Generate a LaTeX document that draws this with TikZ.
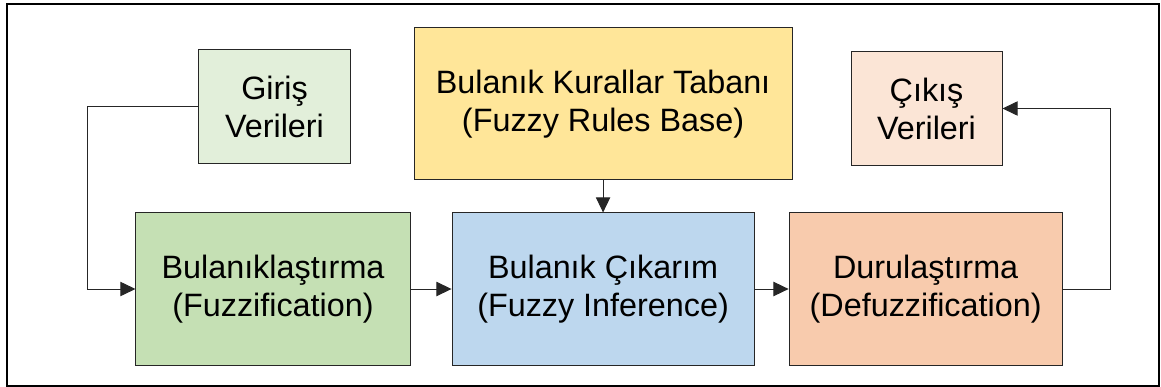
\documentclass[tikz,border=0pt]{standalone}
\usepackage{fontspec}
\setmainfont{Liberation Sans}
\usetikzlibrary{arrows.meta,positioning}

\definecolor{girisgreen}{HTML}{E2EFDA}
\definecolor{fuzzgreen}{HTML}{C5E0B4}
\definecolor{rulesyellow}{HTML}{FFE699}
\definecolor{inferblue}{HTML}{BDD7EE}
\definecolor{defuzzorange}{HTML}{F8CBAD}
\definecolor{cikispeach}{HTML}{FBE5D6}

\tikzset{
  block/.style={draw=black!85,line width=0.7pt,align=center,inner sep=0pt,
    font=\fontsize{23}{27}\selectfont},
  bigblock/.style={block,minimum height=3.8cm},
  datablock/.style={block,minimum width=3.775cm,minimum height=2.825cm},
  link/.style={draw=black!85,line width=0.7pt,-{Triangle[length=0.38cm,width=0.36cm]}}
}

\begin{document}
\begin{tikzpicture}[x=0.025cm,y=-0.025cm]
  \useasboundingbox (0,0) rectangle (1161,387);
  \draw[line width=1.4pt] (7,4) rectangle (1159,386);

  \node[bigblock,fill=fuzzgreen,minimum width=6.85cm]      (fuzz)   at (273,289) {Bulanıklaştırma\\(Fuzzification)};
  \node[bigblock,fill=inferblue,minimum width=7.55cm]      (infer)  [right=1.025cm of fuzz] {Bulanık Çıkarım\\(Fuzzy Inference)};
  \node[bigblock,fill=defuzzorange,minimum width=6.825cm]  (defuzz) [right=0.85cm of infer] {Durulaştırma\\(Defuzzification)};
  \node[bigblock,fill=rulesyellow,minimum width=9.45cm]    (rules)  [above=0.8cm of infer] {Bulanık Kurallar Tabanı\\(Fuzzy Rules Base)};
  \node[datablock,fill=girisgreen]                         (giris)  at (274.5,106.5) {Giriş\\Verileri};
  \node[datablock,fill=cikispeach]                         (cikis)  at (926.5,108.5) {Çıkış\\Verileri};

  \draw[link] (giris.west) -- ++(-111,0) |- (fuzz.west);
  \draw[link] (fuzz) -- (infer);
  \draw[link] (infer) -- (defuzz);
  \draw[link] (rules) -- (infer);
  \draw[link] (defuzz.east) -- ++(48,0) |- (cikis.east);
\end{tikzpicture}
\end{document}
